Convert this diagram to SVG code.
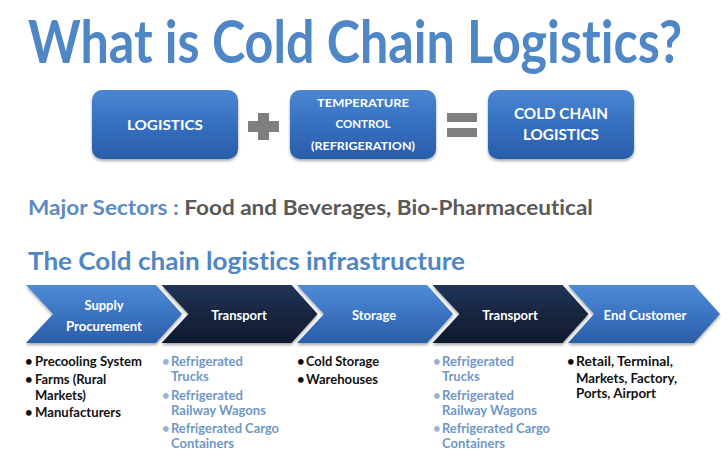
<svg xmlns="http://www.w3.org/2000/svg" width="728" height="474" viewBox="0 0 728 474">
<defs>
<linearGradient id="gBox" x1="0" y1="0" x2="0" y2="1">
<stop offset="0" stop-color="#4a86d2"/><stop offset="0.5" stop-color="#3570c0"/><stop offset="1" stop-color="#2a5ca8"/>
</linearGradient>
<linearGradient id="gBlue" x1="0" y1="0" x2="0" y2="1">
<stop offset="0" stop-color="#4f8bd6"/><stop offset="0.5" stop-color="#3b74c2"/><stop offset="1" stop-color="#2b5ea6"/>
</linearGradient>
<linearGradient id="gDark" x1="0" y1="0" x2="0" y2="1">
<stop offset="0" stop-color="#22355a"/><stop offset="0.5" stop-color="#17263f"/><stop offset="1" stop-color="#0f1a2e"/>
</linearGradient>
<filter id="sh" x="-10%" y="-10%" width="120%" height="130%">
<feDropShadow dx="0" dy="2" stdDeviation="1.6" flood-color="#000" flood-opacity="0.35"/>
</filter>
<style>
text{font-family:Lato,"Open Sans","Liberation Sans",sans-serif;font-weight:bold;font-variant-ligatures:none}
.hd{fill:#4f86c6}
.box{fill:url(#gBox);filter:url(#sh)}
.bt{fill:#fff;text-anchor:middle}
.op{fill:#7f7f7f}
.cb{fill:url(#gBlue);filter:url(#sh)}
.cd{fill:url(#gDark);filter:url(#sh)}
.ct{fill:#fff;font-size:13px;text-anchor:middle}
.lk{fill:#111;font-size:13px}
.lb{fill:#6f97c6;font-size:13px}
.bl{fill:#9ab3d3;font-size:13px}
</style>
</defs>
<rect width="728" height="474" fill="#fff"/>
<text id="title" class="hd" transform="translate(28,63) scale(1,1.2)" x="0" y="0" font-size="50" textLength="654" lengthAdjust="spacingAndGlyphs">What is Cold Chain Logistics?</text>

<g id="node-logistics">
<rect class="box" x="92" y="90" width="146" height="69" rx="10"/>
<text class="bt" x="165" y="130" font-size="14" textLength="76" lengthAdjust="spacingAndGlyphs">LOGISTICS</text>
</g>
<g id="node-temperature">
<rect class="box" x="290" y="90" width="146" height="69" rx="10"/>
<text class="bt" x="363" y="107" font-size="11.5" textLength="92" lengthAdjust="spacingAndGlyphs">TEMPERATURE</text>
<text class="bt" x="363" y="128" font-size="11.5">CONTROL</text>
<text class="bt" x="363" y="150" font-size="11.5" textLength="104" lengthAdjust="spacingAndGlyphs">(REFRIGERATION)</text>
</g>
<g id="node-coldchain">
<rect class="box" x="488" y="90" width="146" height="69" rx="10"/>
<text class="bt" x="561" y="119" font-size="15" textLength="94" lengthAdjust="spacingAndGlyphs">COLD CHAIN</text>
<text class="bt" x="561" y="140" font-size="15" textLength="76" lengthAdjust="spacingAndGlyphs">LOGISTICS</text>
</g>
<g id="connectors">
<path class="op" d="M258,113h11v8h10v11h-10v8h-11v-8h-10v-11h10z"/>
<rect class="op" x="447" y="113" width="30" height="9"/>
<rect class="op" x="447" y="128" width="30" height="9"/>
</g>

<text id="sectors" x="28" y="215" font-size="20" textLength="565" lengthAdjust="spacingAndGlyphs"><tspan fill="#5b8ac4">Major Sectors :</tspan><tspan fill="#595959"> Food and Beverages, Bio-Pharmaceutical</tspan></text>
<text id="infra" class="hd" x="28" y="270" font-size="25" textLength="437" lengthAdjust="spacingAndGlyphs">The Cold chain logistics infrastructure</text>

<g id="step-supply">
<path class="cb" d="M26,285H156L182,314L156,343H26L53,314Z"/>
<text class="ct" x="104" y="310">Supply</text>
<text class="ct" x="104" y="331" textLength="76" lengthAdjust="spacingAndGlyphs">Procurement</text>
<text class="lk" x="25" y="366">•</text><text class="lk" x="35" y="366" textLength="107" lengthAdjust="spacingAndGlyphs">Precooling System</text>
<text class="lk" x="25" y="384">•</text><text class="lk" x="35" y="384">Farms (Rural</text>
<text class="lk" x="35" y="400">Markets)</text>
<text class="lk" x="25" y="417">•</text><text class="lk" x="35" y="417" textLength="86" lengthAdjust="spacingAndGlyphs">Manufacturers</text>
</g>
<g id="step-transport1">
<path class="cd" d="M161.5,285H291.5L317.5,314L291.5,343H161.5L188.5,314Z"/>
<text class="ct" x="239" y="320">Transport</text>
<text class="bl" x="162" y="366">•</text><text class="lb" x="171" y="366" textLength="72" lengthAdjust="spacingAndGlyphs">Refrigerated</text>
<text class="lb" x="171" y="381">Trucks</text>
<text class="bl" x="162" y="400">•</text><text class="lb" x="171" y="400" textLength="72" lengthAdjust="spacingAndGlyphs">Refrigerated</text>
<text class="lb" x="171" y="415" textLength="95" lengthAdjust="spacingAndGlyphs">Railway Wagons</text>
<text class="bl" x="162" y="433">•</text><text class="lb" x="171" y="433" textLength="108" lengthAdjust="spacingAndGlyphs">Refrigerated Cargo</text>
<text class="lb" x="171" y="448" textLength="63" lengthAdjust="spacingAndGlyphs">Containers</text>
</g>
<g id="step-storage">
<path class="cb" d="M297,285H427L453,314L427,343H297L324,314Z"/>
<text class="ct" x="374" y="320">Storage</text>
<text class="lk" x="297" y="366">•</text><text class="lk" x="306" y="366" textLength="73" lengthAdjust="spacingAndGlyphs">Cold Storage</text>
<text class="lk" x="297" y="384">•</text><text class="lk" x="306" y="384" textLength="72" lengthAdjust="spacingAndGlyphs">Warehouses</text>
</g>
<g id="step-transport2">
<path class="cd" d="M432.5,285H562.5L588.5,314L562.5,343H432.5L459.5,314Z"/>
<text class="ct" x="510" y="320">Transport</text>
<text class="bl" x="433" y="366">•</text><text class="lb" x="442" y="366" textLength="72" lengthAdjust="spacingAndGlyphs">Refrigerated</text>
<text class="lb" x="442" y="381">Trucks</text>
<text class="bl" x="433" y="400">•</text><text class="lb" x="442" y="400" textLength="72" lengthAdjust="spacingAndGlyphs">Refrigerated</text>
<text class="lb" x="442" y="415" textLength="95" lengthAdjust="spacingAndGlyphs">Railway Wagons</text>
<text class="bl" x="433" y="433">•</text><text class="lb" x="442" y="433" textLength="108" lengthAdjust="spacingAndGlyphs">Refrigerated Cargo</text>
<text class="lb" x="442" y="448" textLength="63" lengthAdjust="spacingAndGlyphs">Containers</text>
</g>
<g id="step-endcustomer">
<path class="cb" d="M568,285H694L720,314L694,343H568L594,314Z"/>
<text class="ct" x="645" y="320" textLength="83" lengthAdjust="spacingAndGlyphs">End Customer</text>
<text class="lk" x="567" y="366">•</text><text class="lk" x="576" y="366" textLength="97" lengthAdjust="spacingAndGlyphs">Retail, Terminal,</text>
<text class="lk" x="576" y="383" textLength="101" lengthAdjust="spacingAndGlyphs">Markets, Factory,</text>
<text class="lk" x="576" y="398" textLength="80" lengthAdjust="spacingAndGlyphs">Ports, Airport</text>
</g>
</svg>
